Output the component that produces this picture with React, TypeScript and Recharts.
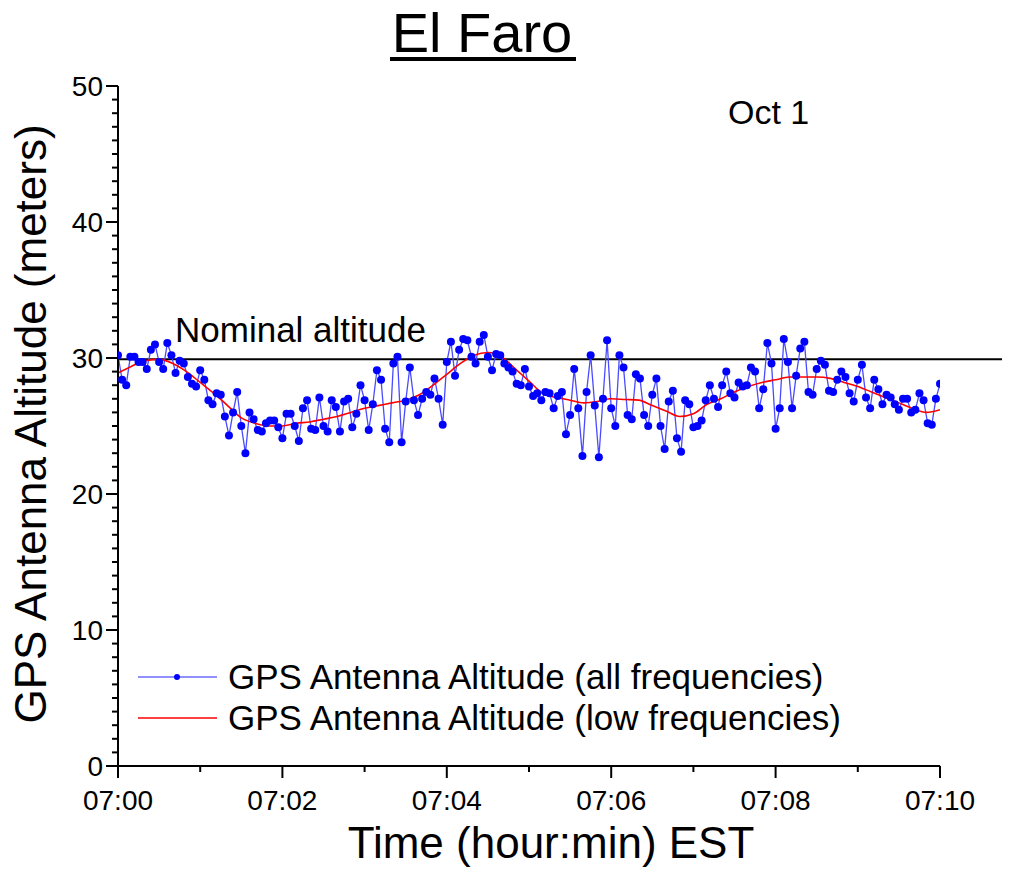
import React from 'react';
import { LineChart, Line, XAxis, YAxis, ReferenceLine } from 'recharts';

// GPS antenna altitude, all frequencies (sampled every 3 s from 07:00:00)
const allFreqAltitude = [
  30.2, 28.4, 28.0, 30.1, 30.1, 29.7, 29.7, 29.2, 30.6, 31.0, 29.7, 29.2, 31.1, 30.2, 28.9, 29.8, 29.6, 28.6, 28.1, 27.9,
  29.1, 28.4, 26.9, 26.6, 27.4, 27.3, 25.7, 24.3, 26.0, 27.5, 25.0, 23.0, 26.0,
  25.5, 24.7, 24.6, 25.2, 25.4, 25.4, 24.9, 24.1, 25.9, 25.9, 25.0, 23.9, 26.3, 26.9, 24.8, 24.7, 27.1, 25.0, 24.6, 26.9,
  26.4, 24.6, 26.8, 27.0, 24.9, 25.9, 28.0, 26.9, 24.7, 26.6, 29.1, 28.4, 24.8,
  23.8, 29.6, 30.1, 23.8, 26.8, 29.3, 26.9, 25.8, 27.0, 27.5, 27.3, 28.5, 27.0, 25.1, 29.7, 31.2, 28.7, 30.6, 31.4, 31.3,
  30.1, 29.6, 31.2, 31.7, 30.1, 29.1, 30.3, 30.2, 29.6, 29.3, 29.0, 28.1, 28.0,
  29.2, 27.9, 27.2, 27.4, 26.9, 27.5, 27.4, 26.3, 27.2, 27.5, 24.4, 25.8, 29.2, 26.3, 22.8, 27.5, 30.2, 26.5, 22.7, 27.0,
  31.3, 26.3, 25.0, 30.2, 29.3, 25.8, 25.5, 28.8, 28.5, 25.8, 25.0, 27.3, 28.5, 25.0,
  23.3, 26.8, 27.6, 24.1, 23.1, 26.9, 26.6, 24.9, 25.0, 25.4, 26.9, 28.0, 27.0, 26.4, 28.0, 29.0, 27.4, 27.1, 28.2, 27.9,
  28.0, 29.3, 29.0, 26.3, 27.7, 31.1, 29.6, 24.8, 26.3, 31.4, 29.7, 26.3, 28.7,
  30.7, 31.2, 27.5, 27.3, 29.2, 29.8, 29.5, 27.6, 27.5, 28.4, 29.0, 28.6, 27.4, 26.8, 28.4, 29.5, 27.1, 26.3, 28.4, 27.7,
  26.6, 27.3, 27.1, 26.6, 26.2, 27.0, 27.0, 26.0, 26.2, 27.4, 26.9, 25.2, 25.1, 27.0, 28.1,
];
const ALL_FREQ_STEP_S = 3;

// GPS antenna altitude, low frequencies (sampled every 10 s)
const lowFreqAltitude = [
  28.9, 29.4, 29.8, 29.9, 29.6, 29.0, 28.2, 27.4, 26.5, 25.6, 25.2, 25.0, 25.0, 25.2, 25.3, 25.5, 25.7, 26.0, 26.3, 26.5,
  26.7, 26.9, 27.3, 28.0, 28.8, 29.6, 30.2, 30.4, 30.1, 29.2, 28.3, 27.4, 27.1, 26.9, 26.7, 26.8, 27.0, 26.95, 26.9, 26.5,
  26.1, 25.7, 25.9, 26.6, 27.0, 27.5, 27.9, 28.2, 28.4, 28.6, 28.6, 28.6, 28.5, 28.2, 27.9, 27.5, 27.1, 26.7, 26.3, 26.0,
  26.2,
];
const LOW_FREQ_STEP_S = 10;

const NOMINAL_ALTITUDE = 29.9;
const xTickSeconds = [0, 60, 120, 180, 240, 300, 360, 420, 480, 540, 600];
const xTickLabels = ['07:00', '07:01', '07:02', '07:03', '07:04', '07:05', '07:06', '07:07', '07:08', '07:09', '07:10'];
const yTicks = Array.from({ length: 51 }, (_, i) => i);

const allFreqData = allFreqAltitude.map((v, i) => ({ t: i * ALL_FREQ_STEP_S, alt: v }));
const lowFreqData = lowFreqAltitude.map((v, i) => ({ t: i * LOW_FREQ_STEP_S, alt: v }));

const FONT = '"Liberation Sans", Arial, Helvetica, sans-serif';

const XTick = (props: any) => {
  const { x, y, payload } = props;
  const major = payload.value % 120 === 0;
  const idx = xTickSeconds.indexOf(payload.value);
  return (
    <g>
      <line x1={x} y1={y} x2={x} y2={y + (major ? 12 : 6)} stroke="#000" strokeWidth={2} />
      {major && (
        <text x={x} y={y + 44} textAnchor="middle" fontSize={28} fontFamily={FONT} fill="#000">
          {xTickLabels[idx]}
        </text>
      )}
    </g>
  );
};

const YTick = (props: any) => {
  const { x, y, payload } = props;
  const major = payload.value % 10 === 0;
  return (
    <g>
      <line x1={x} y1={y} x2={x - (major ? 12 : 6)} y2={y} stroke="#000" strokeWidth={2} />
      {major && (
        <text x={x - 15} y={y + 10} textAnchor="end" fontSize={28} fontFamily={FONT} fill="#000">
          {payload.value}
        </text>
      )}
    </g>
  );
};

export default function App() {
  return (
    <div style={{ position: 'relative', width: 994, height: 865, fontFamily: FONT, background: '#fff' }}>
      <LineChart width={994} height={865} margin={{ top: 78, right: 62, bottom: 47, left: 10 }}>
        <XAxis
          dataKey="t"
          type="number"
          domain={[0, 600]}
          ticks={xTickSeconds}
          interval={0}
          allowDataOverflow
          height={60}
          tickLine={false}
          tickSize={0}
          tickMargin={0}
          axisLine={{ stroke: '#000', strokeWidth: 2 }}
          tick={<XTick />}
        />
        <YAxis
          dataKey="alt"
          type="number"
          domain={[0, 50]}
          ticks={yTicks}
          interval={0}
          width={100}
          tickLine={false}
          tickSize={0}
          tickMargin={0}
          axisLine={{ stroke: '#000', strokeWidth: 2 }}
          tick={<YTick />}
        />
        <ReferenceLine
          segment={[{ x: 0, y: NOMINAL_ALTITUDE }, { x: 650, y: NOMINAL_ALTITUDE }]}
          ifOverflow="visible"
          stroke="#000"
          strokeWidth={2}
        />
        <Line
          data={allFreqData}
          dataKey="alt"
          type="linear"
          stroke="#4a4aff"
          strokeWidth={1.3}
          dot={{ r: 4, fill: '#0000ff', stroke: 'none' }}
          activeDot={false}
          isAnimationActive={false}
          name="GPS Antenna Altitude (all frequencies)"
        />
        <Line
          data={lowFreqData}
          dataKey="alt"
          type="monotone"
          stroke="#ff0000"
          strokeWidth={1.6}
          dot={false}
          activeDot={false}
          isAnimationActive={false}
          name="GPS Antenna Altitude (low frequencies)"
        />
      </LineChart>
      <svg
        width={1010}
        height={873}
        style={{ position: 'absolute', left: -8, top: -8, pointerEvents: 'none' }}
      >
        <text x={482} y={52} textAnchor="middle" fontSize={56} fontFamily={FONT} fill="#000">
          El Faro
        </text>
        <line x1={390} y1={59} x2={576} y2={59} stroke="#000" strokeWidth={4} />
        <text
          x={46}
          y={424}
          textAnchor="middle"
          fontSize={44}
          fontFamily={FONT}
          fill="#000"
          transform="rotate(-90 46 424)"
        >
          GPS Antenna Altitude (meters)
        </text>
        <text x={551} y={858} textAnchor="middle" fontSize={44} fontFamily={FONT} fill="#000">
          Time (hour:min) EST
        </text>
        <text x={728} y={124} fontSize={34} fontFamily={FONT} fill="#000">
          Oct 1
        </text>
        <text x={175} y={342} fontSize={35} fontFamily={FONT} fill="#000">
          Nominal altitude
        </text>
        <line x1={138} y1={677} x2={217} y2={677} stroke="#6b6bff" strokeWidth={1.5} />
        <circle cx={177} cy={677} r={3} fill="#0000ff" />
        <text x={228} y={689} fontSize={35} fontFamily={FONT} fill="#000">
          GPS Antenna Altitude (all frequencies)
        </text>
        <line x1={138} y1={718} x2={217} y2={718} stroke="#ff0000" strokeWidth={1.5} />
        <text x={228} y={730} fontSize={35} fontFamily={FONT} fill="#000">
          GPS Antenna Altitude (low frequencies)
        </text>
      </svg>
    </div>
  );
}
